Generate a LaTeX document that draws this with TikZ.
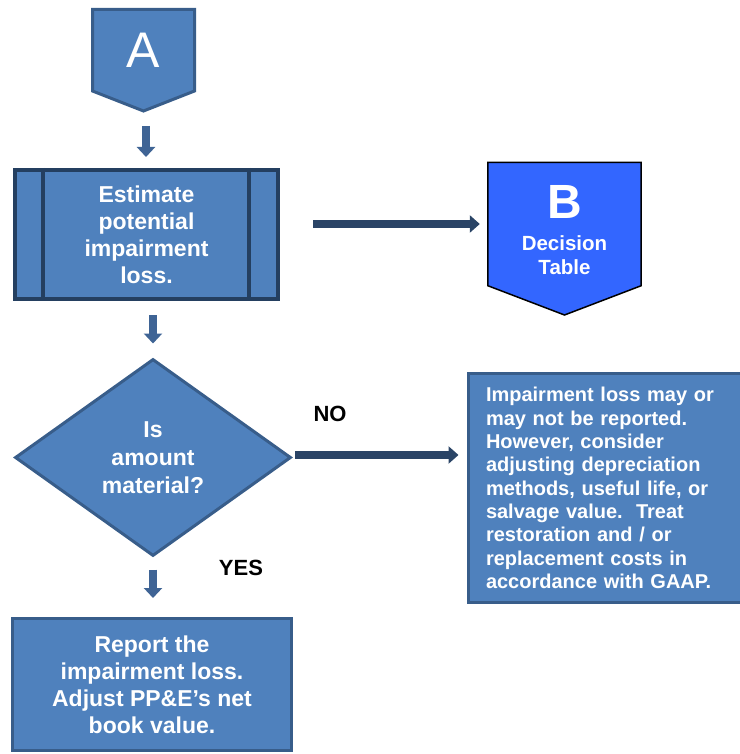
\documentclass[tikz,border=0pt]{standalone}
\usepackage{fontspec}
\setmainfont{Liberation Sans}
\usetikzlibrary{shapes.geometric,arrows.meta,calc}
\definecolor{boxfill}{HTML}{4F81BD}
\definecolor{boxline}{HTML}{385D8A}
\definecolor{darkline}{HTML}{243F60}
\definecolor{bfill}{HTML}{3366FF}
\definecolor{arrowblue}{HTML}{3F6495}
\definecolor{navy}{HTML}{2A4466}
\tikzset{
  box/.style={draw=boxline, line width=3pt, fill=boxfill, text=white, inner sep=0pt, align=center},
  bigtext/.style={font=\bfseries\fontsize{23}{27}\selectfont},
  downarrow/.style={draw=arrowblue, line width=8pt, -{Triangle[width=18pt,length=10pt]}},
  navyarrow/.style={draw=navy, line width=8.5pt, -{Triangle[width=17pt,length=10pt]}},
  lbl/.style={font=\bfseries\fontsize{22}{26}\selectfont, text=black, inner sep=0pt}
}
\begin{document}
\begin{tikzpicture}[x=1pt,y=-1pt]
\useasboundingbox (0,0) rectangle (739,754);
% off-page connector A
\draw[draw=boxline, line width=3pt, fill=boxfill, line join=miter]
  (92.5,9.5) -- (194.5,9.5) -- (194.5,91) -- (143.5,111) -- (92.5,91) -- cycle;
\node[text=white, inner sep=0pt, font=\fontsize{50}{50}\selectfont] (A) at (143.5,50) {A};
\coordinate (Atip) at (146,111);
% predefined process
\node[box, bigtext, draw=darkline, line width=4pt, minimum width=263pt, minimum height=129pt] (P) at (146.5,234.5)
  {Estimate\\potential\\impairment\\loss.};
\draw[darkline, line width=4pt] ($(P.north west)+(30,0)$) -- ($(P.south west)+(30,0)$);
\draw[darkline, line width=4pt] ($(P.north east)+(-31,0)$) -- ($(P.south east)+(-31,0)$);
% off-page connector B
\node[minimum width=153pt, minimum height=123pt, inner sep=0pt] (B) at (564.5,224) {};
\draw[draw=black, line width=1.5pt, fill=bfill, line join=miter]
  (B.north west) -- (B.north east) -- (B.south east) -- (564.5,315) -- (B.south west) -- cycle;
\node[text=white, inner sep=0pt, font=\bfseries\fontsize{48}{48}\selectfont] (Bletter) at (564.5,202) {B};
\node[text=white, inner sep=0pt, align=center, font=\bfseries\fontsize{20.5}{24}\selectfont] (Btext) at (564.5,255) {Decision\\Table};
% decision
\node[box, bigtext, diamond, minimum width=276pt, minimum height=197pt, font=\bfseries\fontsize{23}{28}\selectfont] (D) at (153,457.5)
  {Is\\amount\\material?};
% report box
\node[box, bigtext, minimum width=279pt, minimum height=132pt] (Rep) at (152,684.5)
  {Report the\\impairment loss.\\Adjust PP\&E’s net\\book value.};
% right box
\node[box, minimum width=272.5pt, minimum height=229pt, text width=237.5pt, align=left,
  font=\bfseries\fontsize{20}{23.3}\selectfont] (R) at (604.75,488)
  {Impairment loss may or\\may not be reported.\\However, consider\\adjusting depreciation\\methods, useful life, or\\salvage value.\ \ Treat\\restoration and / or\\replacement costs in\\accordance with GAAP.};
% connectors
\draw[downarrow, shorten <=15pt, shorten >=11pt] (Atip) -- (P.north -| Atip);
\draw[downarrow, shorten <=14pt, shorten >=14pt] (P.south -| D.north) -- (D.north);
\draw[downarrow, shorten <=12pt, shorten >=19pt] (D.south) -- (Rep.north -| D.south);
\coordinate (s1) at (313,224);
\draw[navyarrow, shorten >=8pt] (s1) -- (B.west |- s1);
\coordinate (s2) at (295,455);
\draw[navyarrow, shorten >=8.5pt] (s2) -- (R.west |- s2);
% labels
\node[lbl] (no) at (330,414) {NO};
\node[lbl] (yes) at (241,568) {YES};
\end{tikzpicture}
\end{document}
